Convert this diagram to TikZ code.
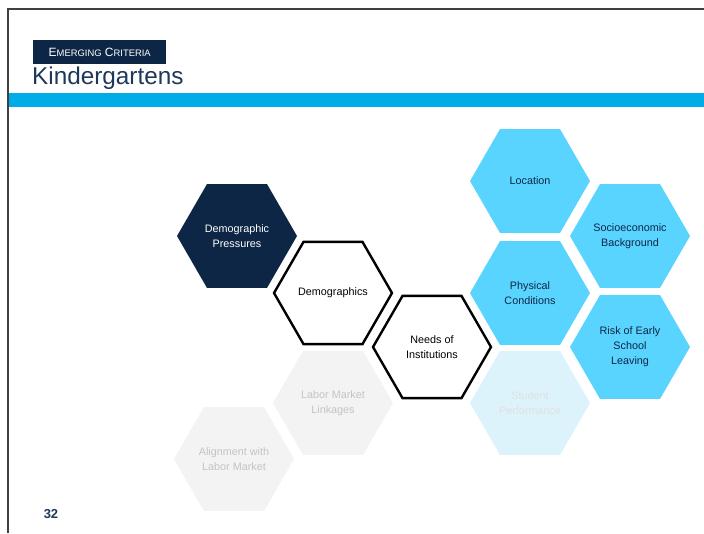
\documentclass[tikz,border=0pt]{standalone}
\usepackage{fontspec}
\setmainfont{Liberation Sans}
\usetikzlibrary{shapes.geometric}

\definecolor{navydark}{RGB}{14,38,70}
\definecolor{titleblue}{RGB}{30,56,92}
\definecolor{bandblue}{RGB}{0,172,232}
\definecolor{hexblue}{RGB}{88,212,255}
\definecolor{hexpale}{RGB}{221,243,251}
\definecolor{hexgrey}{RGB}{243,243,243}
\definecolor{textgrey}{RGB}{196,196,196}
\definecolor{framegrey}{RGB}{64,64,64}

\begin{document}
\begin{tikzpicture}[x=1pt,y=-1pt]
		\tikzstyle {hexa} = [regular polygon, regular polygon sides=6, minimum size=120pt, inner sep=0pt, align=center, font=\fontsize{10.8}{15}\selectfont]
		\tikzstyle {hexa dark} = [hexa, fill=navydark, text=white]
		\tikzstyle {hexa open} = [hexa, draw=black, line width=2.4pt, fill=white, text=black, minimum size=118pt]
		\tikzstyle {hexa blue} = [hexa, fill=hexblue, text=navydark]
		\tikzstyle {hexa pale} = [hexa, fill=hexpale, text=white!88!black]
		\tikzstyle {hexa grey} = [hexa, fill=hexgrey, text=textgrey]

		\useasboundingbox (0,0) rectangle (704,533);
		\fill[white] (0,0) rectangle (704,533);

		\draw[framegrey, line width=2pt] (8,533) -- (8,9) -- (704,9);
		\fill[bandblue] (9,93) rectangle (704,107);

		\node[fill=navydark, text=white, minimum width=133pt, minimum height=24pt, inner sep=0pt, anchor=north west] (tag) at (33,40)
			{\fontsize{12}{12}\selectfont E{\fontsize{9.4}{9.4}\selectfont MERGING} C{\fontsize{9.4}{9.4}\selectfont RITERIA}};
		\node[text=titleblue, anchor=base west, inner sep=0pt, font=\fontsize{24.3}{24}\selectfont] (title) at (32,84) {Kindergartens};

		\node[hexa dark] (pressures) at (237,236) {Demographic\\Pressures};
		\node[hexa open] (demographics) at (333,293) {Demographics};
		\node[hexa open] (needs) at (432,347) {Needs of\\Institutions};

		\node[hexa blue] (location) at (530,181) {Location};
		\node[hexa blue] (physical) at (530,293) {Physical\\Conditions};
		\node[hexa pale] (performance) at (530,403) {Student\\Performance};
		\node[hexa blue] (socio) at (630,236) {Socioeconomic\\Background};
		\node[hexa blue] (risk) at (630,347) {Risk of Early\\School\\Leaving};

		\node[hexa grey] (linkages) at (333,403) {Labor Market\\Linkages};
		\node[hexa grey] (alignment) at (234,459) {Alignment with\\Labor Market};

		\node[text=titleblue, font=\fontsize{13}{13}\selectfont\bfseries, inner sep=0pt] (page) at (51,514) {32};
	\end{tikzpicture}
\end{document}
